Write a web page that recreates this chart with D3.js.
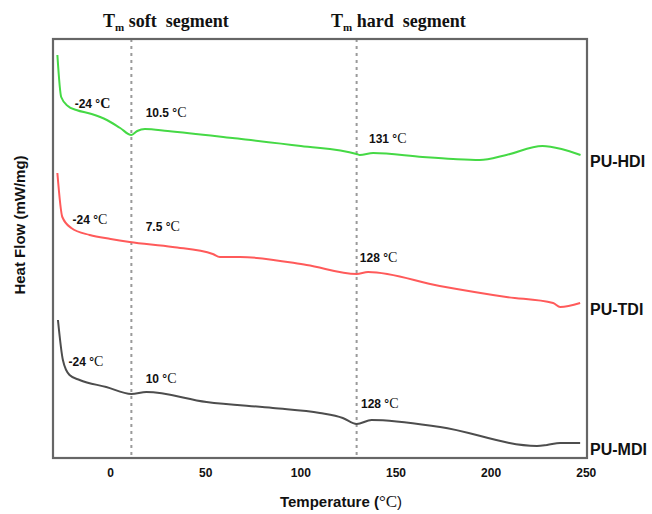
<!DOCTYPE html>
<html>
<head>
<meta charset="utf-8">
<script src="https://cdn.jsdelivr.net/npm/d3@7"></script>
<style>
  body { margin: 0; background: #fff; }
  svg { display: block; }
</style>
</head>
<body>
<div id="chart"></div>
<script>
// DSC curves (heat flow in arbitrary, offset units)
const tempHDI = [-28, -26, -22.5, -18, -10, -2, 5, 10.9, 14, 18, 30, 64, 100, 129.3, 131, 138, 164, 180, 194, 208, 227, 237, 247];
const heatHDI = [40.3, 36.1, 35.2, 34.8, 34.4, 33.8, 33.0, 32.3, 32.7, 32.9, 32.7, 32.0, 31.2, 30.4, 30.3, 30.5, 30.1, 29.9, 29.8, 30.3, 31.2, 30.9, 30.3];

const tempTDI = [-28, -25.4, -20.7, -11, 0, 10, 32.6, 53.7, 57.4, 68, 103, 129.3, 135.3, 173, 208, 232.6, 236.3, 246.8];
const heatTDI = [28.5, 24.1, 23.0, 22.3, 21.9, 21.6, 21.1, 20.4, 20.1, 20.1, 19.3, 18.4, 18.6, 17.2, 16.1, 15.5, 15.1, 15.5];

const tempMDI = [-27.7, -25.1, -21.6, -16.3, -2.3, 10.9, 18.8, 50.4, 85.3, 110, 122, 129.3, 137.2, 173.2, 224.1, 229.4, 236.3, 246.8];
const heatMDI = [13.8, 9.8, 8.3, 7.8, 7.1, 6.4, 6.6, 5.6, 5.0, 4.5, 4.0, 3.4, 3.8, 3.1, 1.2, 1.3, 1.5, 1.5];

const seriesNames = ['PU-HDI', 'PU-TDI', 'PU-MDI'];
const xTicks = [0, 50, 100, 150, 200, 250];
const meltTemps = [10.9, 129.3];
const meltTitles = ['soft\u00a0\u00a0segment', 'hard\u00a0\u00a0segment'];

// peak labels: [series index, text, temperature, heat flow]
const peakLabels = [
  [0, '-24 °', -18.9, 35.0], [0, '10.5 °', 18.4, 34.1], [0, '131 °', 135.8, 31.5],
  [1, '-24 °', -20, 23.4], [1, '7.5 °', 18.4, 22.7], [1, '128 °', 131, 19.6],
  [2, '-24 °', -22.1, 9.2], [2, '10 °', 18.4, 7.5], [2, '128 °', 131.6, 5.0]
];

const W = 652, H = 514;
const box = { left: 53, top: 39, right: 587, bottom: 458 };
const colors = ['#45d945', '#ff5a5a', '#4d4d4d'];

const x = d3.scaleLinear().domain([-30.3, 250.4]).range([box.left, box.right]);
const y = d3.scaleLinear().domain([0, 41.9]).range([box.bottom, box.top]);

const svg = d3.select('#chart').append('svg')
  .attr('width', W).attr('height', H);

const sans = 'Arial, "Liberation Sans", sans-serif';
const serif = '"Times New Roman", "Liberation Serif", serif';

// melting-point guide lines
meltTemps.forEach(t => {
  svg.append('line')
    .attr('x1', x(t)).attr('x2', x(t))
    .attr('y1', box.top).attr('y2', box.bottom)
    .attr('stroke', '#9a9a9a')
    .attr('stroke-width', 2)
    .attr('stroke-dasharray', '3,4');
});

// curves
const line = d3.line()
  .x(d => x(d[0]))
  .y(d => y(d[1]))
  .curve(d3.curveMonotoneX);

const series = [
  d3.zip(tempHDI, heatHDI),
  d3.zip(tempTDI, heatTDI),
  d3.zip(tempMDI, heatMDI)
];

series.forEach((pts, i) => {
  svg.append('path')
    .datum(pts)
    .attr('d', line)
    .attr('fill', 'none')
    .attr('stroke', colors[i])
    .attr('stroke-width', 2)
    .attr('stroke-linejoin', 'round');
});

// frame
svg.append('rect')
  .attr('x', box.left).attr('y', box.top)
  .attr('width', box.right - box.left).attr('height', box.bottom - box.top)
  .attr('fill', 'none')
  .attr('stroke', '#666')
  .attr('stroke-width', 2.2);

// x tick labels (no tick marks)
svg.append('g')
  .selectAll('text')
  .data(xTicks)
  .join('text')
  .attr('x', d => x(d))
  .attr('y', 477)
  .attr('text-anchor', 'middle')
  .attr('font-family', sans)
  .attr('font-weight', 'bold')
  .attr('font-size', 12)
  .attr('fill', '#111')
  .text(d => d);

// peak labels
peakLabels.forEach(([s, txt, t, v]) => {
  const label = svg.append('text')
    .attr('x', x(t)).attr('y', y(v))
    .attr('font-family', sans)
    .attr('font-weight', 'bold')
    .attr('font-size', 12)
    .attr('fill', '#111')
    .text(txt);
  label.append('tspan')
    .attr('font-family', serif)
    .attr('font-weight', s === 0 && txt.startsWith('-') ? 'bold' : 'normal')
    .attr('font-size', 14)
    .text('C');
});

// series names on the right
const nameY = [y(heatHDI[heatHDI.length - 1]), y(heatTDI[heatTDI.length - 1]), y(heatMDI[heatMDI.length - 1])];
seriesNames.forEach((name, i) => {
  svg.append('text')
    .attr('x', box.right + 3)
    .attr('y', nameY[i] + 12)
    .attr('font-family', sans)
    .attr('font-weight', 'bold')
    .attr('font-size', 16)
    .attr('fill', '#111')
    .text(name);
});

// T_m titles above the box
meltTitles.forEach((ttl, i) => {
  const t = svg.append('text')
    .attr('x', [103, 331][i])
    .attr('y', 27)
    .attr('font-family', serif)
    .attr('font-weight', 'bold')
    .attr('font-size', 18)
    .attr('fill', '#111');
  t.append('tspan').text('T');
  t.append('tspan').attr('font-size', 11).attr('dy', 4).text('m');
  t.append('tspan').attr('dy', -4).text(' ' + ttl);
});

// axis titles
const xt = svg.append('text')
  .attr('x', 341).attr('y', 507)
  .attr('text-anchor', 'middle')
  .attr('font-family', sans)
  .attr('font-weight', 'bold')
  .attr('font-size', 15)
  .attr('fill', '#111')
  .text('Temperature (');
xt.append('tspan').attr('font-family', serif).attr('font-weight', 'normal').attr('font-size', 17).text('°C');
xt.append('tspan').attr('font-weight', 'normal').text(')');

svg.append('text')
  .attr('transform', 'translate(25,225) rotate(-90)')
  .attr('text-anchor', 'middle')
  .attr('font-family', sans)
  .attr('font-weight', 'bold')
  .attr('font-size', 15)
  .attr('fill', '#111')
  .text('Heat Flow (mW/mg)');
</script>
</body>
</html>
